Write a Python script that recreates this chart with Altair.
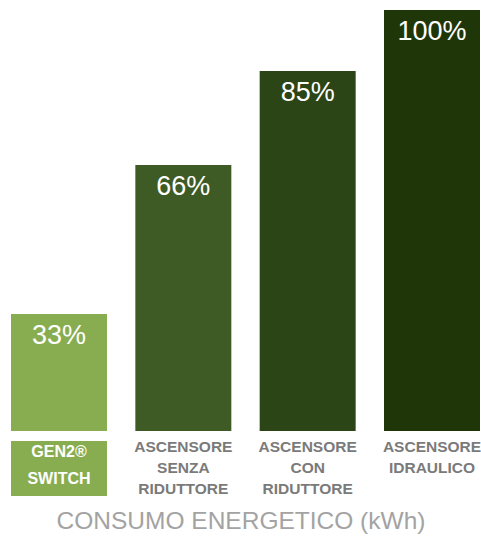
import altair as alt
import pandas as pd

categories = ["GEN2® SWITCH", "ASCENSORE SENZA RIDUTTORE", "ASCENSORE CON RIDUTTORE", "ASCENSORE IDRAULICO"]
labels = ["33%", "66%", "85%", "100%"]
bar_heights = [27.8, 63.2, 85.5, 100]
lines = [["GEN2®", "SWITCH"], ["ASCENSORE", "SENZA", "RIDUTTORE"], ["ASCENSORE", "CON", "RIDUTTORE"], ["ASCENSORE", "IDRAULICO"]]
colors = ["#88AD50", "#3F5B25", "#2B4516", "#1F3609"]
title_text = "CONSUMO ENERGETICO (kWh)"

df = pd.DataFrame({
    "cat": categories,
    "label": labels,
    "h": bar_heights,
    "text_lines": ["\n".join(l) for l in lines],
    "color": colors,
})

x = alt.X("cat:N", sort=categories, axis=None,
          scale=alt.Scale(paddingInner=0.228, paddingOuter=0))
y = alt.Y("h:Q", axis=None, scale=alt.Scale(domain=[0, 100], nice=False))

base = alt.Chart(df)

bars = base.mark_bar().encode(x=x, y=y, color=alt.Color("color:N", scale=None))

vals = base.mark_text(baseline="top", dy=9, fontSize=27, font="Liberation Sans",
                      color="white").encode(x=x, y=y, text="label:N")

box = base.transform_filter(alt.datum.cat == categories[0]).mark_rect(color="#88AD50").encode(
    x=x, y=alt.value(431), y2=alt.value(486))

gen_lbl = base.transform_filter(alt.datum.cat == categories[0]).mark_text(
    baseline="middle", lineBreak="\n", lineHeight=27, fontSize=16, fontWeight="bold",
    font="Liberation Sans", color="white").encode(x=x, y=alt.value(442), text="text_lines:N")

other_lbl = base.transform_filter(alt.datum.cat != categories[0]).mark_text(
    baseline="top", lineBreak="\n", lineHeight=21, fontSize=15.5, fontWeight="bold",
    font="Liberation Sans", color="#7a7a7a").encode(x=x, y=alt.value(430), text="text_lines:N")

title = alt.Chart(pd.DataFrame({"t": [title_text]})).mark_text(
    baseline="middle", fontSize=24.5, font="Liberation Sans", color="#a3a3a3").encode(
    x=alt.value(230), y=alt.value(512), text="t:N")

chart = alt.layer(bars, vals, box, gen_lbl, other_lbl, title).properties(
    width=469, height=421,
    autosize=alt.AutoSizeParams(type="none"),
    padding={"left": 11, "top": 10, "right": 1, "bottom": 106},
).configure_view(stroke=None)

chart.save("out.html", embed_options={"renderer": "svg", "actions": False})
